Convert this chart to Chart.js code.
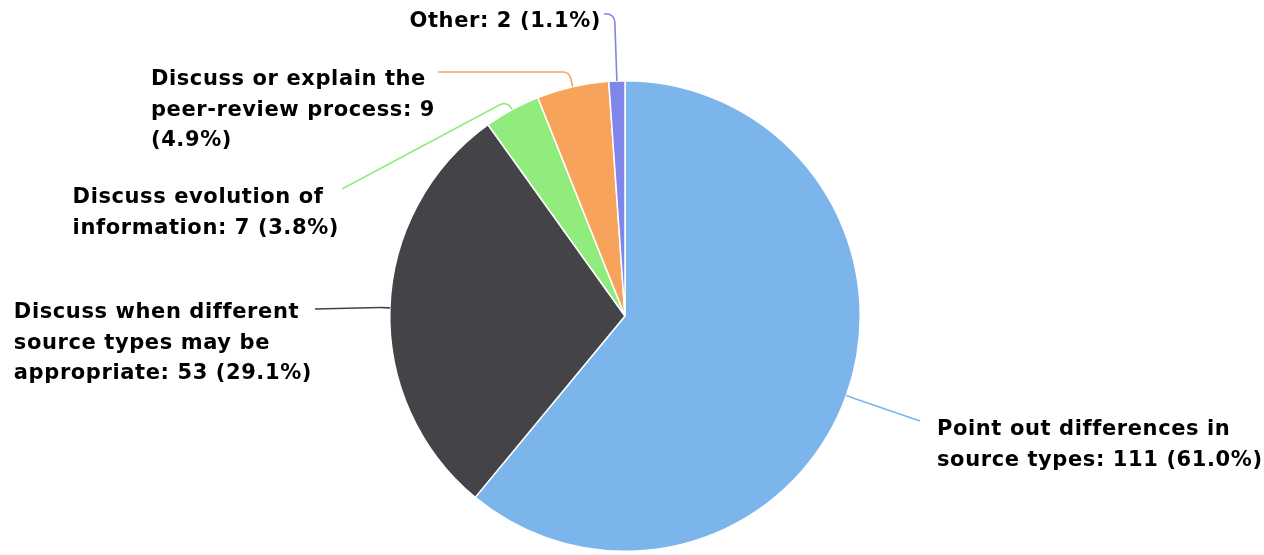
<!DOCTYPE html>
<html lang="en">
<head>
  <meta charset="UTF-8">
  <title>Source types pie</title>
  <script src="https://cdn.jsdelivr.net/npm/chart.js@4.4.1/dist/chart.umd.min.js"></script>
  <style>
    html, body { margin: 0; padding: 0; background: #fff; }
    #wrap { width: 1264px; height: 555px; }
  </style>
</head>
<body>
  <div id="wrap"><canvas id="pieChart" width="1264" height="555"></canvas></div>

  <script>
    // data
    const categories = [
      'Point out differences in source types',
      'Discuss when different source types may be appropriate',
      'Discuss evolution of information',
      'Discuss or explain the peer-review process',
      'Other'
    ];
    const counts = [111, 53, 7, 9, 2];
    const colors = ['#7cb5ec', '#434348', '#90ed7d', '#f7a35c', '#8085e9'];

    // label layout: words per wrapped line, side, connector end, first baseline
    const wordsPerLine = [[4, 4], [3, 4, 3], [3, 3], [4, 3, 1], [3]];
    const labelSide = ['right', 'left', 'left', 'left', 'left'];
    const connEnd = [[920, 421], [315, 309], [342, 189], [438, 72], [604, 14]];
    const firstBaseline = [435, 318, 203, 85, 27];
    const LINE_H = 30.5;
    const FONT = 'bold 21px "DejaVu Sans", Verdana, sans-serif';

    const total = counts.reduce((a, b) => a + b, 0);

    function labelLines(i) {
      const pct = (counts[i] / total * 100).toFixed(1);
      const words = (categories[i] + ': ' + counts[i] + ' (' + pct + '%)').split(' ');
      const lines = [];
      let k = 0;
      wordsPerLine[i].forEach(n => {
        lines.push(words.slice(k, k + n).join(' '));
        k += n;
      });
      return lines;
    }

    const pieLabels = {
      id: 'pieLabels',
      afterDatasetsDraw(chart) {
        const ctx = chart.ctx;
        const meta = chart.getDatasetMeta(0);
        ctx.save();
        meta.data.forEach((arc, i) => {
          const p = arc.getProps(['x', 'y', 'startAngle', 'endAngle', 'outerRadius'], true);
          const a = (p.startAngle + p.endAngle) / 2;
          const dx = Math.cos(a), dy = Math.sin(a);
          const x0 = p.x + p.outerRadius * dx, y0 = p.y + p.outerRadius * dy;
          const [x2, y2] = connEnd[i];

          // break point along the radial line
          let d = 10;
          if (dy < -0.5 && y2 < y0) d = Math.max(d, (y0 - y2) / -dy);
          if (dy > 0.5 && y2 > y0) d = Math.max(d, (y2 - y0) / dy);
          const x1 = x0 + d * dx, y1 = y0 + d * dy;

          ctx.beginPath();
          ctx.strokeStyle = colors[i];
          ctx.lineWidth = 1.6;
          ctx.moveTo(x0, y0);
          ctx.arcTo(x1, y1, x2, y2, 8);
          ctx.lineTo(x2, y2);
          ctx.stroke();

          // text block
          ctx.font = FONT;
          ctx.letterSpacing = '0.6px';
          ctx.fillStyle = '#000';
          ctx.textBaseline = 'alphabetic';
          ctx.textAlign = 'left';
          const lines = labelLines(i);
          const w = Math.max(...lines.map(t => ctx.measureText(t).width));
          const left = labelSide[i] === 'right' ? x2 + 17 : x2 - 3 - w;
          lines.forEach((t, j) => {
            ctx.fillText(t, left, firstBaseline[i] + j * LINE_H);
          });
        });
        ctx.restore();
      }
    };

    const ctx = document.getElementById('pieChart').getContext('2d');
    const chart = new Chart(ctx, {
      type: 'pie',
      data: {
        labels: categories,
        datasets: [{
          data: counts,
          backgroundColor: colors,
          borderColor: '#ffffff',
          borderWidth: 1.5
        }]
      },
      options: {
        responsive: false,
        devicePixelRatio: 1,
        animation: false,
        layout: {
          padding: { left: 389, right: 403, top: 80, bottom: 3 }
        },
        plugins: {
          legend: { display: false },
          tooltip: { enabled: false }
        }
      },
      plugins: [pieLabels]
    });
  </script>
</body>
</html>
